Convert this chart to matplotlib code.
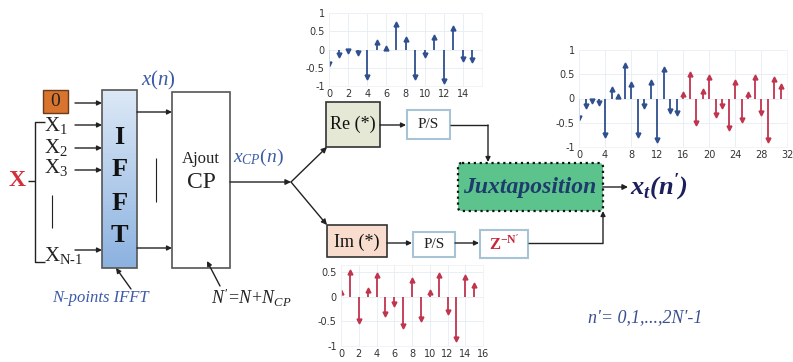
import numpy as np
import matplotlib
matplotlib.use("Agg")
import matplotlib.pyplot as plt
from matplotlib.patches import Rectangle, FancyBboxPatch
from matplotlib.colors import LinearSegmentedColormap

plt.rcParams['mathtext.fontset'] = 'custom'
plt.rcParams['mathtext.rm'] = 'Liberation Serif'
plt.rcParams['mathtext.it'] = 'Liberation Serif:italic'
plt.rcParams['mathtext.bf'] = 'Liberation Serif:bold'
plt.rcParams['mathtext.bfit'] = 'Liberation Serif:bold:italic'

# ---------------- data ----------------
re_vals = [-0.4, -0.15, -0.05, -0.1, -0.75, 0.2, 0.05, 0.7, 0.3, -0.75,
           -0.15, 0.35, -0.85, 0.6, -0.25, -0.3]
im_vals = [0.1, 0.5, -0.5, 0.15, 0.45, -0.35, -0.15, -0.6, 0.35, -0.45,
           0.1, 0.45, -0.3, -0.85, 0.4, 0.25]
re_xticks = [0, 2, 4, 6, 8, 10, 12, 14]
im_xticks = [0, 2, 4, 6, 8, 10, 12, 14, 16]
jx_xticks = [0, 4, 8, 12, 16, 20, 24, 28, 32]
re_yticks = [-1, -0.5, 0, 0.5, 1]
im_yticks = [-1, -0.5, 0, 0.5]
ytick_labels = {-1: '-1', -0.5: '-0.5', 0: '0', 0.5: '0.5', 1: '1'}

BLUE = '#2f4f8f'
RED = '#c0344e'

W, H = 793, 362
fig = plt.figure(figsize=(W / 100, H / 100), dpi=100)


def px_axes(x0, x1, ytop, ybot, z=1):
    return fig.add_axes([x0 / W, 1 - ybot / H, (x1 - x0) / W, (ybot - ytop) / H], zorder=z)


def stem_plot(ax, xs, ys, color):
    xs = np.asarray(xs); ys = np.asarray(ys)
    ax.vlines(xs, 0, ys, color=color, lw=1.3)
    pos = ys >= 0
    ax.plot(xs[pos], ys[pos], '^', color=color, ms=3.5, mec=color)
    ax.plot(xs[~pos], ys[~pos], 'v', color=color, ms=3.5, mec=color)


def style(ax, xt, yt, xlim, ylim):
    ax.set_xlim(*xlim); ax.set_ylim(*ylim)
    ax.set_xticks(xt); ax.set_yticks(yt)
    ax.set_yticklabels([ytick_labels[v] for v in yt])
    ax.tick_params(length=0, labelsize=7, labelcolor='#333333')
    ax.tick_params(axis='x', pad=2.5)
    ax.tick_params(axis='y', pad=3)
    ax.grid(True, color='#e4ecf4', lw=0.6)
    for s in ax.spines.values():
        s.set_color('#eef2f6'); s.set_linewidth(0.6)
    ax.set_facecolor('white')


# Re plot
ax1 = px_axes(329, 482, 13, 86)
stem_plot(ax1, np.arange(len(re_vals)), re_vals, BLUE)
style(ax1, re_xticks, re_yticks, (0, 16), (-1, 1))

# Im plot
ax2 = px_axes(341, 483, 265, 346)
stem_plot(ax2, np.arange(len(im_vals)), im_vals, RED)
style(ax2, im_xticks, im_yticks, (0, 16), (-1, 0.65))

# Juxtaposed plot
ax3 = px_axes(579, 787, 50, 147)
n_re = np.arange(len(re_vals))
n_im = np.arange(len(re_vals), len(re_vals) + len(im_vals))
stem_plot(ax3, n_re, re_vals, BLUE)
stem_plot(ax3, n_im, im_vals, RED)
style(ax3, jx_xticks, re_yticks, (0, 32), (-1, 1))

# ---------------- diagram overlay ----------------
d = fig.add_axes([0, 0, 1, 1], zorder=5)
d.set_xlim(0, W); d.set_ylim(H, 0); d.axis('off'); d.patch.set_alpha(0)

SERIF = 'Liberation Serif'
TXTBLUE = '#3b5ba8'


def arrow(x0, y0, x1, y1, lw=1.0, ms=8):
    d.annotate('', xy=(x1, y1), xytext=(x0, y0),
               arrowprops=dict(arrowstyle='-|>', color='#222222', lw=lw,
                               mutation_scale=ms, shrinkA=0, shrinkB=0))


def line(xs, ys, lw=1.0):
    d.plot(xs, ys, color='#222222', lw=lw, solid_capstyle='butt')


# X bracket
d.text(17, 181, 'X', fontsize=17, fontweight='bold', color='#d3303a', family=SERIF,
       ha='center', va='center')
line([28, 35], [181, 181])
line([45, 35, 35, 45], [122, 122, 262, 262])

# orange 0 box
d.add_patch(Rectangle((43, 90), 25, 23, facecolor='#d9742f', edgecolor='#6b3a1a', lw=1))
d.text(55.5, 102, '0', fontsize=14, family=SERIF, ha='center', va='center', color='#222')

labels_in = [(r'X$_{\mathrm{1}}$', 125), (r'X$_{\mathrm{2}}$', 147), (r'X$_{\mathrm{3}}$', 167),
             (r'X$_{\mathrm{N\text{-}1}}$', 255)]
for lab, yy in labels_in:
    d.text(44, yy, lab, fontsize=15, family=SERIF, ha='left', va='center', color='#222')
line([52, 52], [195, 228], lw=0.8)

for yy in [103, 125, 148, 170, 250]:
    arrow(75, yy, 102, yy, ms=7)

# IFFT gradient box
grad = np.linspace(0, 1, 100).reshape(-1, 1)
cm = LinearSegmentedColormap.from_list('g', ['#dce8f6', '#8cb2e0'])
d.imshow(grad, cmap=cm, extent=(102, 137, 268, 90), aspect='auto', zorder=1)
d.add_patch(Rectangle((102, 90), 35, 178, facecolor='none', edgecolor='#555555', lw=1.2, zorder=2))
for letter, yy in zip('IFFT', [138, 170, 203, 235]):
    d.text(119.5, yy, letter, fontsize=19, fontweight='bold', family=SERIF,
           ha='center', va='center', color='#111', zorder=3)

d.text(158, 80, r'$x(n)$', fontsize=15, color=TXTBLUE, ha='center', va='center')

arrow(137, 112, 172, 112, ms=7)
arrow(137, 248, 172, 248, ms=7)
line([156, 156], [158, 202], lw=0.8)

# Ajout CP box
d.add_patch(Rectangle((172, 92), 58, 176, facecolor='white', edgecolor='#555555', lw=1.2))
d.text(201, 159, 'Ajout', fontsize=12, family=SERIF, ha='center', va='center', color='#222')
d.text(201, 182, 'CP', fontsize=17, family=SERIF, ha='center', va='center', color='#222')
d.text(233, 157, r'$x_{CP}(n)$', fontsize=14, color=TXTBLUE, ha='left', va='center')

arrow(230, 182, 291, 182, ms=8)
arrow(291, 182, 327, 147, ms=8)
arrow(291, 182, 327, 225, ms=8)

# N-points IFFT annotation
d.text(100, 298, 'N-points IFFT', fontsize=12, style='italic', family=SERIF,
       ha='center', va='center', color=TXTBLUE)
arrow(131, 289, 116, 268, ms=7)
d.text(251, 298, r"$N'\!=\!N\!+\!N_{CP}$", fontsize=13, ha='center', va='center', color='#222')
arrow(220, 286, 207, 261, ms=7)

# Re box
d.add_patch(Rectangle((326, 102), 54, 45, facecolor='#e4e8d5', edgecolor='#333333', lw=1.2))
d.text(353, 124, 'Re (*)', fontsize=13, family=SERIF, ha='center', va='center', color='#111')
arrow(380, 125, 406, 125, ms=7)

PSEDGE = '#a8c4d4'
d.add_patch(Rectangle((407, 110), 43, 29, facecolor='white', edgecolor=PSEDGE, lw=1.5))
d.text(428.5, 125, 'P/S', fontsize=11, family=SERIF, ha='center', va='center', color='#222')
line([450, 488], [125, 125])
arrow(488, 125, 488, 162, ms=7)

# Im box
d.add_patch(Rectangle((327, 225), 60, 32, facecolor='#f8dccd', edgecolor='#333333', lw=1.2))
d.text(357, 242, 'Im (*)', fontsize=13, family=SERIF, ha='center', va='center', color='#111')
arrow(387, 243, 412, 243, ms=7)
d.add_patch(Rectangle((413, 232), 42, 25, facecolor='white', edgecolor=PSEDGE, lw=1.5))
d.text(434, 244, 'P/S', fontsize=11, family=SERIF, ha='center', va='center', color='#222')
arrow(455, 243, 479, 243, ms=7)
d.add_patch(Rectangle((480, 230), 48, 28, facecolor='white', edgecolor=PSEDGE, lw=1.5))
d.text(504, 244, r"$\mathbf{Z}^{\mathbf{-N'}}$", fontsize=12, ha='center', va='center', color='#c8283c')
line([528, 603], [243, 243])
arrow(603, 243, 603, 211, ms=7)

# Juxtaposition
d.add_patch(FancyBboxPatch((458, 163), 145, 48, boxstyle='round,pad=0,rounding_size=4',
                           facecolor='#5cc38c', edgecolor='#111111', lw=1.6, linestyle=':'))
d.text(530, 187, 'Juxtaposition', fontsize=17, fontweight='bold', style='italic',
       family=SERIF, ha='center', va='center', color='#1d3c6c')
arrow(603, 187, 628, 187, ms=8)
d.text(630, 187, r"$\mathbfit{x_t(n')}$", fontsize=19, ha='left', va='center', color='#1c1f5c')

d.text(645, 318, "n'= 0,1,...,2N'-1", fontsize=13, style='italic', family=SERIF,
       ha='center', va='center', color='#3b4f90')

fig.savefig('out.png', dpi=100)
